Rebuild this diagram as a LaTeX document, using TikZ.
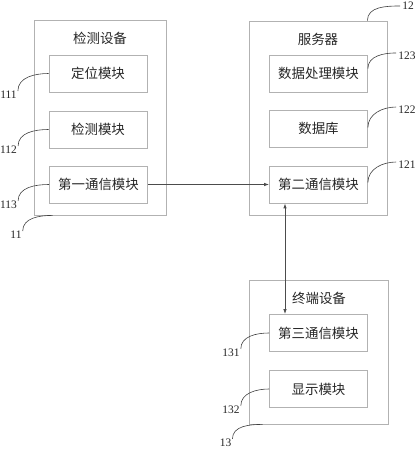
\documentclass[tikz,border=0pt]{standalone}
\usepackage{fontspec}
\setmainfont{Liberation Serif}
\newfontfamily\cjk{Noto Sans CJK SC}
\usetikzlibrary{arrows.meta, positioning}

\begin{document}
\begin{tikzpicture}[x=1bp,y=1bp,
    every node/.style={inner sep=0pt},
    lead/.style={draw=black!75,line width=0.6pt},
    link/.style={draw=black!70,line width=0.8pt,-{Latex[length=5pt,width=3.5pt]}}]
  \tikzstyle{unit}=[draw=black!30,line width=0.8pt,minimum width=132bp,minimum height=195bp]
  \tikzstyle{part}=[draw=black!30,line width=0.8pt,minimum width=98bp,minimum height=37bp,font=\cjk\fontsize{13.5}{16}\selectfont,text=black!85]
  \tikzstyle{head}=[font=\cjk\fontsize{13.5}{16}\selectfont,text=black!85]
  \tikzstyle{num}=[font=\fontsize{11.5}{13}\selectfont,text=black!85]
  \useasboundingbox (0,0) rectangle (418,-450);
  % detection device
  \node[unit] (dev1) at (100,-117.5) {};
  \node[head] (t1) at (100,-38) {检测设备};
  \node[part] (loc1) at (98,-73.5) {定位模块};
  \node[part] (sen1) at (98,-129.5) {检测模块};
  \node[part] (com1) at (98.5,-184.5) {第一通信模块};
  % server
  \node[unit,minimum width=138bp,minimum height=194bp] (srv2) at (318,-118) {};
  \node[head] (t2) at (318,-39) {服务器};
  \node[part] (proc2) at (318.5,-73.5) {数据处理模块};
  \node[part] (db2) at (318.5,-128.5) {数据库};
  \node[part] (com2) at (318.5,-184.5) {第二通信模块};
  % terminal
  \node[unit,minimum width=139bp,minimum height=144bp] (term3) at (318.5,-352) {};
  \node[head] (t3) at (319,-298) {终端设备};
  \node[part] (com3) at (318.5,-333) {第三通信模块};
  \node[part] (disp3) at (318.5,-389) {显示模块};

  % reference numbers
  \node[num] (n111) at (8.5,-95) {111};
  \node[num] (n112) at (8.5,-150) {112};
  \node[num] (n113) at (8.5,-205) {113};
  \node[num] (n11) at (16,-235) {11};
  \node[num] (n12) at (408,-6) {12};
  \node[num] (n123) at (407,-56) {123};
  \node[num] (n122) at (407,-110) {122};
  \node[num] (n121) at (407,-165) {121};
  \node[num] (n131) at (231,-353) {131};
  \node[num] (n132) at (231,-410) {132};
  \node[num] (n13) at (225.5,-443) {13};

  \draw[lead] ([xshift=1bp]n111.north east) to[out=90,in=180] (loc1.west);
  \draw[lead] ([xshift=1bp]n112.north east) to[out=90,in=180] (sen1.west);
  \draw[lead] ([xshift=1bp]n113.north east) to[out=90,in=180] (com1.west);
  \draw[lead] ([xshift=1bp]n11.north east) to[out=90,in=180] ([xshift=19bp]dev1.south west);
  \draw[lead] ([xshift=-20bp]srv2.north east) to[out=90,in=180] ([xshift=-2bp]n12.west);
  \draw[lead] ([yshift=5bp]proc2.east) to[out=90,in=180] ([xshift=-2bp,yshift=-1bp]n123.north west);
  \draw[lead] ([yshift=1bp]db2.east) to[out=90,in=180] ([xshift=-2bp,yshift=-1bp]n122.north west);
  \draw[lead] ([yshift=2bp]com2.east) to[out=90,in=180] ([xshift=-2bp,yshift=-1bp]n121.north west);
  \draw[lead] ([xshift=1bp]n131.north east) to[out=90,in=180] (com3.west);
  \draw[lead] ([xshift=1bp]n132.north east) to[out=90,in=180] (disp3.west);
  \draw[lead] ([xshift=1bp]n13.north east) to[out=90,in=180] ([xshift=14bp]term3.south west);

  % links
  \draw[link] (com1) -- (com2);
  \draw[link,{Latex[length=5pt,width=3.5pt]}-{Latex[length=5pt,width=3.5pt]}] ([xshift=-33.5bp]com2.south) -- ([xshift=-33.5bp]com3.north);
\end{tikzpicture}
\end{document}
